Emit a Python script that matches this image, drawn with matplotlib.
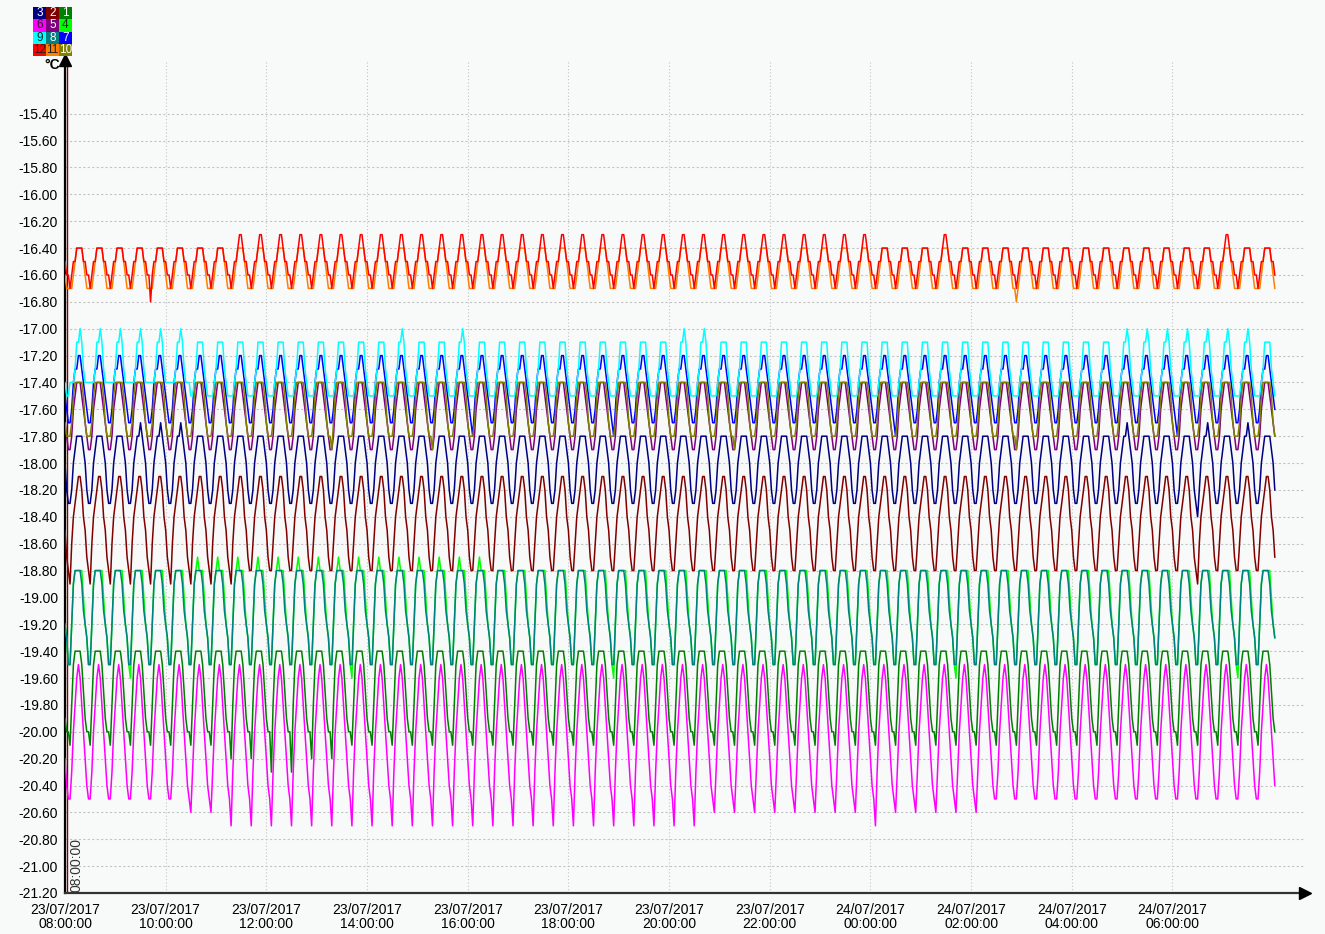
import matplotlib
matplotlib.use('Agg')
import matplotlib.pyplot as plt
import matplotlib.dates as mdates
from matplotlib.patches import Rectangle
import numpy as np
import pandas as pd

plt.rcParams['font.family'] = ['Liberation Sans', 'DejaVu Sans']

# logger: 12 probes, one sample every 2 min, compressor cycle of 24 min (12 samples)
start = pd.Timestamp('2017-07-23 08:00:00')
first_cycle_min = -18          # cycle -1 starts 18 min before the first sample
n_cycles = 61                  # cycles -1 .. 59
end_min = 1443

# one cycle for each probe (deg C)
shape_1 = [-20.1, -19.8, -19.5, -19.4, -19.4, -19.4, -19.4, -19.5, -19.7, -19.9, -20.0, -20.0]
shape_2 = [-18.8, -18.6, -18.4, -18.3, -18.2, -18.1, -18.1, -18.2, -18.4, -18.5, -18.7, -18.8]
shape_3 = [-18.3, -18.2, -18.0, -17.9, -17.8, -17.8, -17.8, -17.8, -17.9, -18.0, -18.2, -18.3]
shape_4 = [-19.5, -19.2, -18.9, -18.8, -18.8, -18.8, -18.8, -18.8, -19.0, -19.2, -19.3, -19.5]
shape_5 = [-17.9, -17.8, -17.6, -17.5, -17.4, -17.4, -17.4, -17.5, -17.6, -17.7, -17.8, -17.9]
shape_6 = [-20.5, -20.3, -20.0, -19.8, -19.6, -19.5, -19.6, -19.8, -20.0, -20.2, -20.4, -20.5]
shape_7 = [-17.7, -17.6, -17.4, -17.3, -17.3, -17.2, -17.2, -17.3, -17.4, -17.5, -17.6, -17.7]
shape_8 = [-19.5, -19.2, -18.9, -18.8, -18.8, -18.8, -18.8, -18.9, -19.1, -19.2, -19.3, -19.5]
shape_9 = [-17.5, -17.5, -17.4, -17.3, -17.1, -17.1, -17.1, -17.1, -17.3, -17.4, -17.5, -17.5]
shape_10 = [-17.8, -17.7, -17.5, -17.4, -17.4, -17.4, -17.4, -17.4, -17.5, -17.7, -17.8, -17.8]
shape_11 = [-16.7, -16.7, -16.6, -16.5, -16.4, -16.4, -16.4, -16.4, -16.5, -16.6, -16.7, -16.7]
shape_12 = [-16.7, -16.6, -16.5, -16.5, -16.4, -16.4, -16.4, -16.4, -16.5, -16.5, -16.6, -16.6]

# cycles that differ from the usual shape: (cycles, sample indices, value)
over_1 = [([8, 9, 12, 13], [0], -20.2), ([10, 11], [0], -20.3)]
over_2 = [(list(range(0, 9)) + [56], [0], -18.9)]
over_3 = [([3, 4, 5, 52, 56, 58], [6], -17.7), ([56], [0], -18.4), ([59], [11], -18.4)]
over_4 = [(list(range(6, 21)), [4], -18.7), ([3, 14, 27, 44, 58], [0], -19.6)]
over_5 = []
over_6 = [([6, 7], [0], -20.6), (list(range(8, 32)), [0], -20.7),
          (list(range(32, 46)), [0], -20.6), ([40], [0], -20.7)]
over_7 = [([20, 27, 41, 55], [0], -17.8)]
over_8 = []
over_9 = [(list(range(0, 6)) + [16, 19, 30, 31] + list(range(52, 59)), [6], -17.0),
          (list(range(0, 6)), [0, 1, 10, 11], -17.4)]
over_10 = [([13, 18, 33, 47], [0], -17.9)]
over_11 = [([47], [0], -16.8)]
over_12 = [(list(range(8, 40)) + [43, 57], [5, 6], -16.3), ([4], [0], -16.8)]

colors = ['#008000', '#800000', '#000080', '#00ff00', '#800080', '#ff00ff',
          '#0000ff', '#008080', '#00ffff', '#808000', '#ff8000', '#ff0000']
shapes = [shape_1, shape_2, shape_3, shape_4, shape_5, shape_6,
          shape_7, shape_8, shape_9, shape_10, shape_11, shape_12]
overs = [over_1, over_2, over_3, over_4, over_5, over_6,
         over_7, over_8, over_9, over_10, over_11, over_12]


def build(shape, overrides):
    wave = np.tile(np.array(shape, dtype=float), (n_cycles, 1))
    for cycles, idx, value in overrides:
        for c in cycles:
            wave[c + 1, idx] = value
    return wave.ravel()


minutes = first_cycle_min + 2 * np.arange(n_cycles * 12)
keep = (minutes >= 0) & (minutes <= end_min)
times = start + pd.to_timedelta(minutes[keep], unit='min')

W, H = 1325, 934
fig = plt.figure(figsize=(W / 100, H / 100), dpi=100, facecolor='#f8f9f9')
ax = fig.add_axes([65 / W, 41 / H, 1240 / W, 833 / H])
ax.set_facecolor('#f8f9f9')

for i, (shape, over, col) in enumerate(zip(shapes, overs, colors)):
    y = build(shape, over)[keep]
    ax.plot(times, y, color=col, lw=1.1, zorder=3 + i)

ax.set_ylim(-21.2, -15.0)
ax.set_xlim(start, start + pd.Timedelta(minutes=24 * 60 + 38))

yt = np.round(np.arange(-21.2, -15.39, 0.2), 2)
ax.set_yticks(yt)
ax.set_yticklabels(['%.2f' % v for v in yt])
xt = [start + pd.Timedelta(hours=2 * k) for k in range(12)]
ax.set_xticks(xt)
ax.xaxis.set_major_formatter(mdates.DateFormatter('%d/%m/%Y\n%H:%M:%S'))
ax.tick_params(axis='both', length=0, labelsize=10, colors='black')
ax.tick_params(axis='y', pad=5)
ax.tick_params(axis='x', pad=7)
for lab in ax.get_xticklabels():
    lab.set_linespacing(1.0)

ax.grid(axis='y', color='#c4c4c4', linestyle=(0, (2, 2)), lw=0.8, zorder=0)
ax.grid(axis='x', color='#c4c4c4', linestyle=(0, (1, 2)), lw=0.8, zorder=0)

for s in ['top', 'right']:
    ax.spines[s].set_visible(False)
ax.spines['left'].set_linewidth(1.6)
ax.spines['bottom'].set_linewidth(1.6)
ax.spines['bottom'].set_color('#333333')
ax.plot([0], [1], marker='^', ms=8, color='black', transform=ax.transAxes, clip_on=False, zorder=20)
ax.plot([1], [0], marker='>', ms=8, color='black', transform=ax.transAxes, clip_on=False, zorder=20)

# cursor marker at the start
ax.axvline(start + pd.Timedelta(minutes=1.8), color='#800000', lw=1, zorder=2)
ax.annotate('08:00:00', xy=(0, 0), xycoords='axes fraction', xytext=(3, 1),
            textcoords='offset points', rotation=90, ha='left', va='bottom',
            fontsize=10, color='#333333')

fig.text(52 / W, 1 - 65 / H, '°C', ha='center', va='center', fontsize=10, fontweight='bold')

# colour key, three columns by four rows
key_rows = [[3, 2, 1], [6, 5, 4], [9, 8, 7], [12, 11, 10]]
light = {4, 6, 9, 11, 12}
cw, ch = 13, 12.3
for r, row in enumerate(key_rows):
    for c, num in enumerate(row):
        x0 = 33 + c * cw
        y0 = 7 + r * ch
        fig.add_artist(Rectangle((x0 / W, 1 - (y0 + ch) / H), cw / W, ch / H,
                                 transform=fig.transFigure, facecolor=colors[num - 1],
                                 edgecolor='none'))
        fig.text((x0 + cw / 2) / W, 1 - (y0 + ch / 2) / H, str(num),
                 ha='center', va='center', fontsize=8.5,
                 color='#202020' if num in light else 'white')

fig.savefig('out.png', dpi=100, facecolor=fig.get_facecolor())
